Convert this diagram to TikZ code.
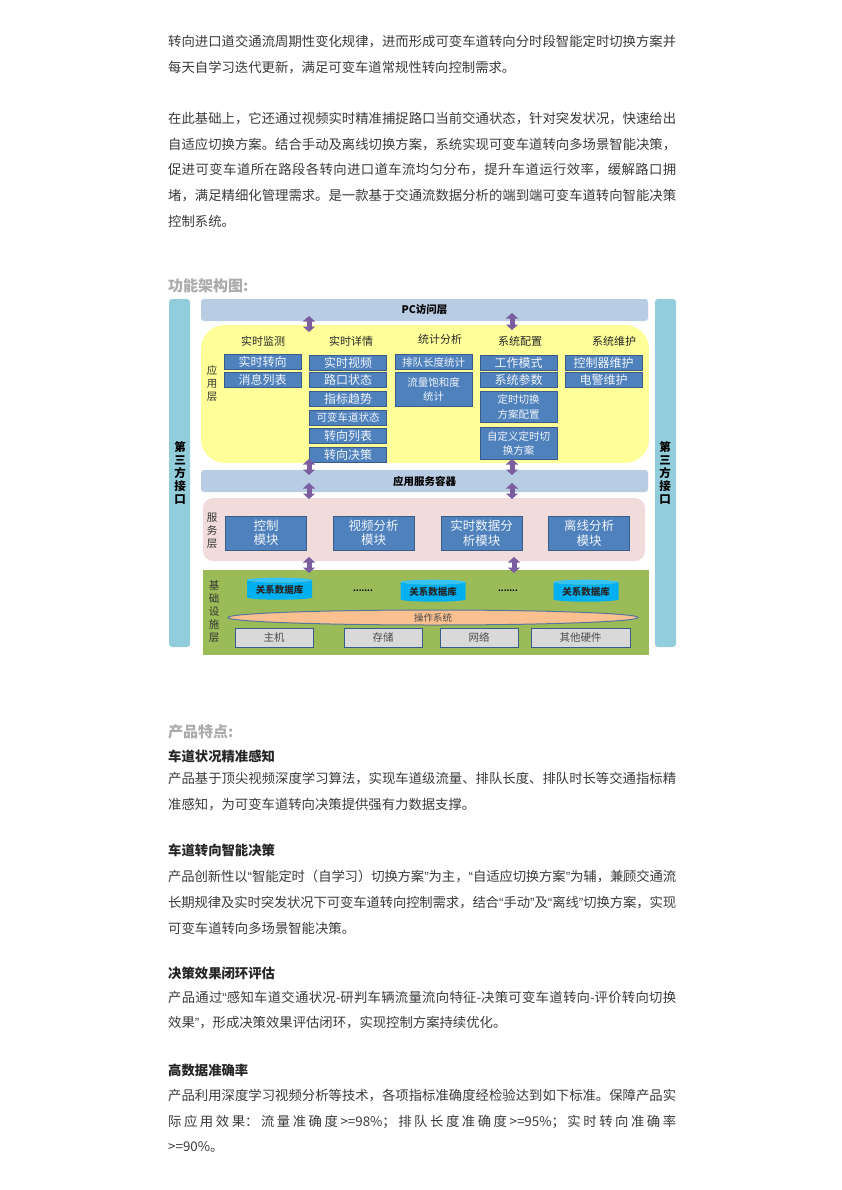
\documentclass[tikz,border=0pt]{standalone}
\usepackage{fontspec}
\setmainfont{Noto Sans CJK SC}
\newfontfamily\quotefont{Liberation Sans}
\newcommand{\lqt}{{\quotefont “}}
\newcommand{\rqt}{{\quotefont ”}}
\XeTeXlinebreaklocale "zh"
\XeTeXlinebreakskip=0pt plus 1pt minus .15pt
\tolerance=9999
\usetikzlibrary{positioning, arrows.meta, shapes.geometric, shadows}

\definecolor{bodytext}{HTML}{3A3A3A}
\definecolor{headgrey}{HTML}{ABABAB}
\definecolor{bandblue}{HTML}{92CDDC}
\definecolor{layerblue}{HTML}{B8CCE4}
\definecolor{appyellow}{HTML}{FFFF99}
\definecolor{servpink}{HTML}{F2DCDB}
\definecolor{basegreen}{HTML}{9BBB59}
\definecolor{boxblue}{HTML}{4F81BD}
\definecolor{boxedge}{HTML}{385D8A}
\definecolor{arrowpurple}{HTML}{7B5EA0}
\definecolor{dbblue}{HTML}{00B0F0}
\definecolor{dbtop}{HTML}{35C4F5}
\definecolor{osorange}{HTML}{FAC090}
\definecolor{hwgrey}{HTML}{D9D9D9}

\tikzset{
    para/.style={anchor=north west, inner sep=0pt, text width=508pt, align=justify, text=bodytext, font=\fontsize{13.35}{25.7}\selectfont},
    sechead/.style={anchor=west, inner sep=0pt, text=headgrey, font=\fontsize{15}{18}\selectfont\bfseries},
    subhead/.style={anchor=west, inner sep=0pt, text=black!85, font=\fontsize{13.35}{16}\selectfont\bfseries},
    band/.style={fill=bandblue, rounded corners=3pt, minimum width=21pt, minimum height=348pt, inner sep=0pt, outer sep=0pt},
    bandtext/.style={align=center, inner sep=0pt, font=\fontsize{11.5}{13}\selectfont\bfseries},
    layerbar/.style={fill=layerblue, rounded corners=3pt, inner sep=0pt, outer sep=0pt, minimum height=22pt, font=\fontsize{10.5}{12}\selectfont\bfseries},
    sidetext/.style={align=center, inner sep=0pt, text=black!80, font=\fontsize{10.5}{13}\selectfont},
    colhead/.style={inner sep=0pt, text=black!85, font=\fontsize{11}{13}\selectfont},
    bluebox/.style={draw=boxedge, line width=.8pt, fill=boxblue, text=white!92!boxblue, align=center, inner sep=0pt, outer sep=0pt, minimum width=77pt, minimum height=15pt, font=\fontsize{12}{14.5}\selectfont},
    modbox/.style={bluebox, minimum width=81pt, minimum height=34pt, font=\fontsize{12.5}{14.5}\selectfont},
    dbase/.style={cylinder, shape border rotate=90, aspect=.1, cylinder uses custom fill, cylinder body fill=dbblue, cylinder end fill=dbtop, inner sep=0pt, outer sep=0pt, minimum width=65pt, minimum height=22pt, font=\fontsize{9.5}{10}\selectfont\bfseries, text=black!85},
    hwbox/.style={draw=boxedge, line width=.9pt, fill=hwgrey, text=black!70, inner sep=0pt, outer sep=0pt, minimum width=78pt, minimum height=19pt, font=\fontsize{10.5}{12}\selectfont},
    layerarrow/.style={draw=arrowpurple, line width=5pt, {Triangle[length=5.5pt, width=12pt]}-{Triangle[length=5.5pt, width=12pt]}},
}

\begin{document}
\begin{tikzpicture}[x=1pt, y=-1pt]
    \useasboundingbox (0, 0) rectangle (841, 1190);

    % text above the figure
    \node (introa) [para] at (168, 35) {转向进口道交通流周期性变化规律，进而形成可变车道转向分时段智能定时切换方案并\linebreak 每天自学习迭代更新，满足可变车道常规性转向控制需求。};
    \node (introb) [para] at (168, 112) {在此基础上，它还通过视频实时精准捕捉路口当前交通状态，针对突发状况，快速给出\linebreak 自适应切换方案。结合手动及离线切换方案，系统实现可变车道转向多场景智能决策，\linebreak 促进可变车道所在路段各转向进口道车流均匀分布，提升车道运行效率，缓解路口拥\linebreak 堵，满足精细化管理需求。是一款基于交通流数据分析的端到端可变车道转向智能决策\linebreak 控制系统。};
    \node (archhead) [sechead] at (168, 286) {功能架构图:};

    % side bands and layers
    \node (bandl) [band] at (179.5, 473) {};
    \node (bandr) [band] at (665.5, 473) {};
    \node (bandltext) [bandtext] at (180, 473) {第\\三\\方\\接\\口};
    \node (bandrtext) [bandtext] at (665, 473) {第\\三\\方\\接\\口};
    \node (pc) [layerbar, minimum width=447pt] at (424.5, 310) {PC访问层};
    \node (app) [fill=appyellow, rounded corners=24pt, inner sep=0pt, outer sep=0pt, minimum width=448pt, minimum height=138pt] at (425, 394) {};
    \node (appserv) [layerbar, minimum width=447pt] at (424.5, 481) {应用服务容器};
    \node (serv) [fill=servpink, rounded corners=10pt, inner sep=0pt, outer sep=0pt, minimum width=442pt, minimum height=63pt] at (424, 529.5) {};
    \node (base) [fill=basegreen, draw=white, line width=1pt, inner sep=0pt, outer sep=0pt, minimum width=447pt, minimum height=86pt, drop shadow={fill=black!22, opacity=1, shadow xshift=1.2pt, shadow yshift=-1.2pt}] at (425.5, 612) {};

    \node (applabel) [sidetext] at (212, 384) {应\\用\\层};
    \node (servlabel) [sidetext] at (212, 531) {服\\务\\层};
    \node (baselabel) [sidetext] at (214, 612) {基\\础\\设\\施\\层};

    % application layer columns
    \node (monhead) [colhead] at (263, 341) {实时监测};
    \node (dethead) [colhead] at (351, 341) {实时详情};
    \node (stathead) [colhead] at (440, 339) {统计分析};
    \node (cfghead) [colhead] at (520, 341) {系统配置};
    \node (mainthead) [colhead] at (614, 341) {系统维护};

    \node (turn) [bluebox] at (262.5, 362) {实时转向};
    \node (msgs) [bluebox, below=3pt of turn] {消息列表};

    \node (video) [bluebox] at (348, 362.5) {实时视频};
    \node (cross) [bluebox, below=2.5pt of video] {路口状态};
    \node (trend) [bluebox, below=4pt of cross] {指标趋势};
    \node (state) [bluebox, below=3.5pt of trend, font=\fontsize{10.5}{14}\selectfont] {可变车道状态};
    \node (tlist) [bluebox, below=3.5pt of state] {转向列表};
    \node (tdec) [bluebox, below=3.5pt of tlist] {转向决策};

    \node (queue) [bluebox, font=\fontsize{10.5}{14}\selectfont] at (433.5, 362) {排队长度统计};
    \node (flow) [bluebox, font=\fontsize{10.5}{14.5}\selectfont, minimum height=34pt, below=3pt of queue] {流量饱和度\\统计};

    \node (mode) [bluebox] at (518.5, 363) {工作模式};
    \node (param) [bluebox, below=2pt of mode] {系统参数};
    \node (timed) [bluebox, font=\fontsize{10.5}{14.5}\selectfont, minimum height=31pt, below=4pt of param] {定时切换\\方案配置};
    \node (custom) [bluebox, font=\fontsize{10.5}{14.5}\selectfont, minimum height=32pt, below=5pt of timed] {自定义定时切\\换方案};

    \node (ctrl) [bluebox] at (603.5, 363) {控制器维护};
    \node (police) [bluebox, below=2pt of ctrl] {电警维护};

    % service layer
    \node (modctrl) [modbox] at (266, 533) {控制\\模块};
    \node (modvideo) [modbox] at (373.5, 533) {视频分析\\模块};
    \node (moddata) [modbox] at (481.5, 533) {实时数据分\\析模块};
    \node (modoff) [modbox] at (589, 533) {离线分析\\模块};

    % base layer
    \node (dba) [dbase] at (279.5, 590) {\raisebox{-2pt}{关系数据库}};
    \node (dbb) [dbase] at (433, 592) {\raisebox{-2pt}{关系数据库}};
    \node (dbc) [dbase] at (586, 592) {\raisebox{-2pt}{关系数据库}};
    \node (dotsa) [inner sep=0pt, font=\fontsize{8}{10}\selectfont\bfseries] at (363, 591) {.......};
    \node (dotsb) [inner sep=0pt, font=\fontsize{8}{10}\selectfont\bfseries] at (508, 591) {.......};
    \node (os) [ellipse, draw=boxedge!85, line width=1pt, fill=osorange, inner sep=0pt, minimum width=410pt, minimum height=15pt, text=black!70, font=\fontsize{9.5}{11}\selectfont] at (433, 617.5) {操作系统};
    \node (host) [hwbox] at (274, 637.5) {主机};
    \node (disk) [hwbox] at (383, 637.5) {存储};
    \node (net) [hwbox] at (479, 637.5) {网络};
    \node (other) [hwbox, minimum width=99pt] at (580.5, 637.5) {其他硬件};

    % arrows between layers
    \coordinate (arrowa) at (309, 0);
    \coordinate (arrowb) at (512, 0);
    \coordinate (arrowc) at (514, 0);
    \draw [layerarrow] ([yshift=5pt]pc.south -| arrowa) -- ([yshift=-7pt]app.north -| arrowa);
    \draw [layerarrow] ([yshift=8pt]pc.south -| arrowb) -- ([yshift=-5pt]app.north -| arrowb);
    \draw [layerarrow] ([yshift=4pt]app.south -| arrowa) -- ([yshift=-5pt]appserv.north -| arrowa);
    \draw [layerarrow] ([yshift=4pt]app.south -| arrowb) -- ([yshift=-5pt]appserv.north -| arrowb);
    \draw [layerarrow] ([yshift=9pt]appserv.south -| arrowa) -- ([yshift=-1pt]serv.north -| arrowa);
    \draw [layerarrow] ([yshift=9pt]appserv.south -| arrowb) -- ([yshift=-1pt]serv.north -| arrowb);
    \draw [layerarrow] ([yshift=4pt]serv.south -| arrowa) -- ([yshift=-4pt]base.north -| arrowa);
    \draw [layerarrow] ([yshift=4pt]serv.south -| arrowc) -- ([yshift=-4pt]base.north -| arrowc);

    % text below the figure
    \node (feathead) [sechead] at (168, 732) {产品特点:};
    \node (sensehead) [subhead] at (168, 756) {车道状况精准感知};
    \node (sense) [para] at (168, 772) {产品基于顶尖视频深度学习算法，实现车道级流量、排队长度、排队时长等交通指标精\linebreak 准感知，为可变车道转向决策提供强有力数据支撑。};
    \node (dechead) [subhead] at (168, 850) {车道转向智能决策};
    \node (dec) [para] at (168, 870) {产品创新性以\lqt 智能定时（自学习）切换方案\rqt 为主，\lqt 自适应切换方案\rqt 为辅，兼顾交通流\linebreak 长期规律及实时突发状况下可变车道转向控制需求，结合\lqt 手动\rqt 及\lqt 离线\rqt 切换方案，实现\linebreak 可变车道转向多场景智能决策。};
    \node (evalhead) [subhead] at (168, 973) {决策效果闭环评估};
    \node (eval) [para] at (168, 990.5) {产品通过\lqt 感知车道交通状况-研判车辆流量流向特征-决策可变车道转向-评价转向切换\linebreak 效果\rqt ，形成决策效果评估闭环，实现控制方案持续优化。};
    \node (accuhead) [subhead] at (168, 1070) {高数据准确率};
    \node (accu) [para] at (168, 1089) {产品利用深度学习视频分析等技术，各项指标准确度经检验达到如下标准。保障产品实\linebreak 际应用效果：流量准确度>=98\%；排队长度准确度>=95\%；实时转向准确率\linebreak >=90\%。};
\end{tikzpicture}
\end{document}
